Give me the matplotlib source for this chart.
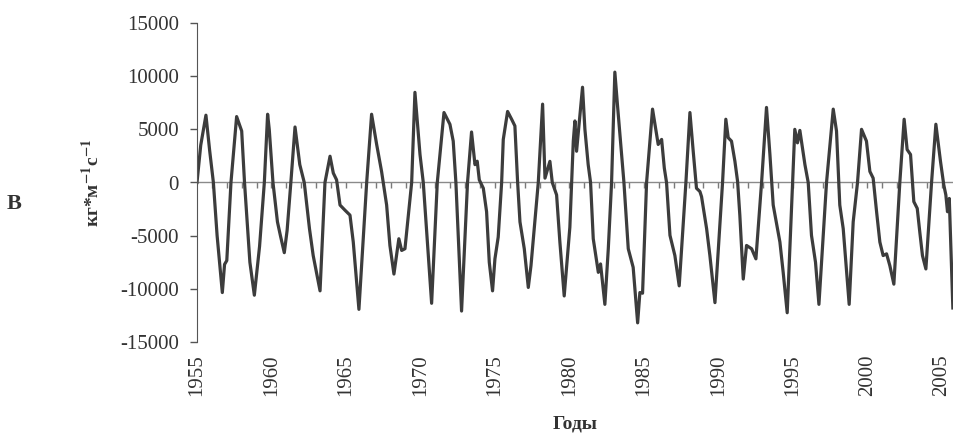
import matplotlib
matplotlib.use("Agg")
import matplotlib.pyplot as plt
import numpy as np

# данные (год, кг*м^-1*с^-1)
years = [
    1955.0, 1955.25, 1955.6, 1955.85, 1956.1, 1956.35, 1956.7, 1956.85, 1957.0, 1957.28,
    1957.66, 1958.0, 1958.19, 1958.55, 1958.85, 1959.2, 1959.52, 1959.74, 1959.85, 1960.1,
    1960.4, 1960.6, 1960.86, 1961.05, 1961.3, 1961.58, 1961.9, 1962.2, 1962.55, 1962.8,
    1963.26, 1963.59, 1963.93, 1964.15, 1964.37, 1964.6, 1964.93, 1965.27, 1965.49, 1965.87,
    1966.39, 1966.72, 1967.06, 1967.39, 1967.73, 1967.95, 1968.22, 1968.55, 1968.74, 1968.96,
    1969.41, 1969.63, 1969.97, 1970.19, 1970.53, 1970.75, 1971.13, 1971.58, 1971.98, 1972.2,
    1972.38, 1972.76, 1973.16, 1973.43, 1973.66, 1973.81, 1973.95, 1974.22, 1974.44, 1974.62,
    1974.84, 1975.0, 1975.22, 1975.45, 1975.56, 1975.85, 1976.12, 1976.34, 1976.52, 1976.68,
    1976.97, 1977.24, 1977.42, 1977.91, 1978.2, 1978.36, 1978.69, 1978.85, 1979.14, 1979.36,
    1979.65, 1980.03, 1980.26, 1980.37, 1980.48, 1980.88, 1981.04, 1981.26, 1981.42, 1981.6,
    1981.94, 1982.09, 1982.38, 1982.61, 1982.83, 1983.05, 1983.23, 1983.5, 1983.66, 1983.95,
    1984.28, 1984.58, 1984.73, 1984.91, 1985.18, 1985.58, 1985.96, 1986.19, 1986.37, 1986.52,
    1986.75, 1987.08, 1987.37, 1987.82, 1988.09, 1988.31, 1988.53, 1988.76, 1988.87, 1989.21,
    1989.43, 1989.77, 1990.28, 1990.5, 1990.66, 1990.88, 1991.11, 1991.29, 1991.44, 1991.67,
    1991.89, 1992.23, 1992.52, 1992.9, 1993.23, 1993.46, 1993.68, 1994.13, 1994.35, 1994.62,
    1994.98, 1995.13, 1995.31, 1995.47, 1995.81, 1996.03, 1996.25, 1996.52, 1996.75, 1997.26,
    1997.71, 1997.93, 1998.15, 1998.38, 1998.78, 1999.05, 1999.34, 1999.61, 1999.94, 2000.17,
    2000.39, 2000.62, 2000.84, 2001.06, 2001.29, 2001.51, 2001.78, 2002.18, 2002.47, 2002.67,
    2002.9, 2003.12, 2003.35, 2003.52, 2003.7, 2003.93, 2004.31, 2004.6, 2004.91, 2005.13,
    2005.27, 2005.38, 2005.5, 2005.74,
]
values = [
    0, 3500, 6330, 3000, 0, -5000, -10350, -7700, -7340, 0,
    6200, 4840, 0, -7500, -10600, -6000, 0, 6420, 5000, 0,
    -3700, -5000, -6600, -4500, 0, 5220, 1680, 0, -4340, -6870,
    -10190, 0, 2470, 886, 250, -2120, -2600, -3070, -5600, -11930,
    0, 6420, 3580, 1040, -2120, -5920, -8610, -5290, -6390, -6230,
    0, 8480, 2630, 0, -6870, -11360, 0, 6580, 5470, 3890,
    0, -12090, 0, 4750, 1680, 2000, 250, -540, -2750, -7500,
    -10190, -7180, -5130, 0, 4050, 6680, 5950, 5320, 95, -3700,
    -6230, -9870, -7820, 0, 7370, 410, 1990, 0, -1170, -5600,
    -10670, -4200, 3890, 5790, 2940, 8960, 5000, 1680, 0, -5290,
    -8450, -7660, -11460, -6230, 0, 10380, 7220, 2630, 0, -6230,
    -7980, -13200, -10350, -10410, 0, 6900, 3580, 4050, 1360, 0,
    -4970, -6870, -9720, 0, 6580, 2940, -540, -850, -1330, -4340,
    -6870, -11300, 0, 5950, 4210, 3890, 1990, 95, -3070, -9080,
    -5920, -6230, -7180, 0, 7060, 2630, -2120, -5600, -8450, -12250,
    0, 5000, 3730, 4900, 1680, 0, -4970, -7500, -11460, 0,
    6900, 4840, -2120, -4340, -11460, -3700, 0, 5000, 3890, 1040,
    410, -2750, -5600, -6870, -6710, -7820, -9560, 0, 5950, 3100,
    2630, -1800, -2440, -4650, -6870, -8130, 0, 5480, 1990, -220,
    -1170, -2750, -1500, -11800,
]
year_ticks = list(range(1955, 2006, 5))
y_ticks = [-15000, -10000, -5000, 0, 5000, 10000, 15000]

plt.rcParams['font.family'] = ['Liberation Serif', 'DejaVu Serif']
plt.rcParams['mathtext.fontset'] = 'stix'
plt.rcParams['axes.unicode_minus'] = False

fig = plt.figure(figsize=(9.54, 4.36), dpi=100)
rect = [197/954, 94/436, 756/954, 319/436]

# вспомогательные оси: линия нуля с годовыми делениями
ax0 = fig.add_axes(rect)
ax0.set_xlim(1955, 2005.75)
ax0.set_ylim(-15000, 15000)
ax0.patch.set_visible(False)
for s in ['top', 'right', 'left']:
    ax0.spines[s].set_visible(False)
ax0.spines['bottom'].set_position(('data', 0))
ax0.spines['bottom'].set_color('#8a8a8a')
ax0.spines['bottom'].set_linewidth(1.0)
ax0.set_xticks(range(1956, 2006))
ax0.set_yticks([])
ax0.tick_params(axis='x', direction='out', length=4, width=1.0, color='#7a7a7a',
                labelbottom=False)

ax = fig.add_axes(rect)
ax.patch.set_visible(False)
ax.plot(years, values, color='#3c3c3c', lw=2.3, solid_joinstyle='round')

ax.set_xlim(1955, 2005.75)
ax.set_ylim(-15000, 15000)
ax.set_yticks(y_ticks)
ax.set_xticks(year_ticks)
ax.set_xticklabels([str(y) for y in year_ticks], rotation=90)

for s in ['top', 'right', 'bottom']:
    ax.spines[s].set_visible(False)
ax.spines['left'].set_color('#555555')
ax.tick_params(axis='y', direction='out', length=5, width=1, color='#555555',
               pad=8, labelsize=15, labelcolor='#333333')
ax.tick_params(axis='x', length=0, pad=9, labelsize=15, labelcolor='#333333')

ax.set_ylabel('кг*м$^{\\mathbf{-1}}$с$^{\\mathbf{-1}}$', fontsize=14,
              fontweight='bold', color='#333333')
ax.yaxis.set_label_coords(-0.124, 0.5)
ax.set_xlabel('Годы', fontsize=14, fontweight='bold', color='#333333', labelpad=14)

fig.text(14/954, 1 - 204/436, 'B', fontsize=16, fontweight='bold',
         color='#333333', ha='center', va='center')

fig.savefig('out.png', dpi=100)
